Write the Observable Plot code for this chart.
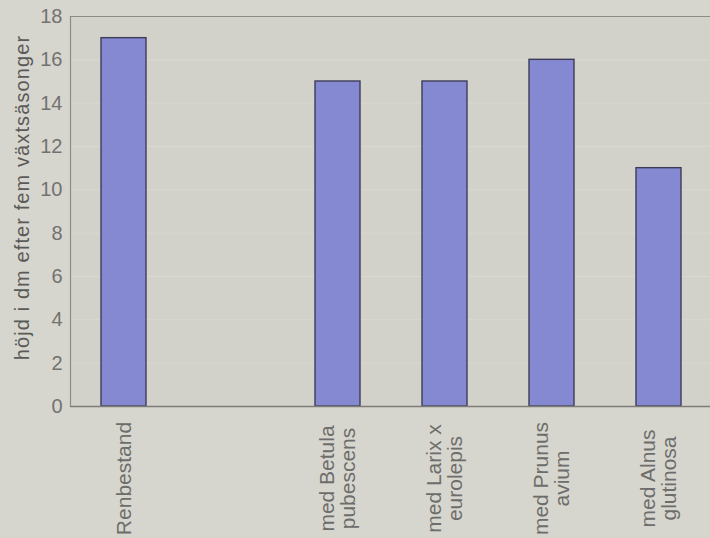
<!DOCTYPE html>
<html>
<head>
<meta charset="utf-8">
<script src="https://cdn.jsdelivr.net/npm/d3@7"></script>
<script src="https://cdn.jsdelivr.net/npm/@observablehq/plot@0.6"></script>
<style>
  html, body { margin: 0; padding: 0; background: #d7d6ce; }
  #chart { width: 710px; height: 538px; overflow: hidden; }
</style>
</head>
<body>
<div id="chart"></div>
<script>
const categories = ["Renbestand", " ", "med Betula\npubescens", "med Larix x\neurolepis", "med Prunus\navium", "med Alnus\nglutinosa"];
const heights = [17, null, 15, 15, 16, 11];
const yTicks = [0, 2, 4, 6, 8, 10, 12, 14, 16, 18];
const yLabel = "höjd i dm efter fem växtsäsonger";

const data = categories.map((c, i) => ({category: c, height: heights[i]})).filter(d => d.height != null);

const chart = Plot.plot({
  width: 710,
  height: 538,
  marginLeft: 70,
  marginRight: 0,
  marginTop: 16,
  marginBottom: 132,
  style: {background: "#d7d6ce", fontFamily: "Liberation Sans, Arial, sans-serif"},
  x: {domain: categories, range: [70, 712], paddingInner: 0.58, paddingOuter: 0.29, axis: null},
  y: {domain: [0, 18], ticks: yTicks, axis: null},
  marks: [
    Plot.frame({fill: "#d3d2ca", stroke: "none"}),
    Plot.gridY(yTicks, {stroke: "#d9d8d1", strokeOpacity: 1, strokeWidth: 1}),
    Plot.frame({anchor: "left", stroke: "#8c8b86", strokeWidth: 1.2}),
    Plot.ruleY([18], {stroke: "#8c8b86", strokeWidth: 1.2}),
    Plot.barY(data, {x: "category", y: "height", fill: "#8589d2", stroke: "#3d3c58", strokeWidth: 1.4}),
    Plot.ruleY([0], {stroke: "#7d7c78", strokeWidth: 1.4}),
    Plot.axisY({
      ticks: yTicks, tickSize: 0, tickPadding: 8, fontSize: 20, color: "#727270", label: null
    }),
    Plot.text([yLabel], {
      frameAnchor: "left", dx: -48, dy: -14, rotate: -90, fontSize: 20, fill: "#5a5a58",
      textAnchor: "middle", lineAnchor: "middle", className: "ylab"
    }),
    Plot.axisX({
      tickSize: 0, tickRotate: -90, textAnchor: "middle", lineAnchor: "middle",
      tickPadding: 72, fontSize: 21, color: "#6d6d6b", label: null, lineHeight: 1.0
    })
  ]
});

chart.querySelectorAll(".ylab text").forEach(t => t.setAttribute("letter-spacing", "1.1"));
document.getElementById("chart").appendChild(chart);
</script>
</body>
</html>
